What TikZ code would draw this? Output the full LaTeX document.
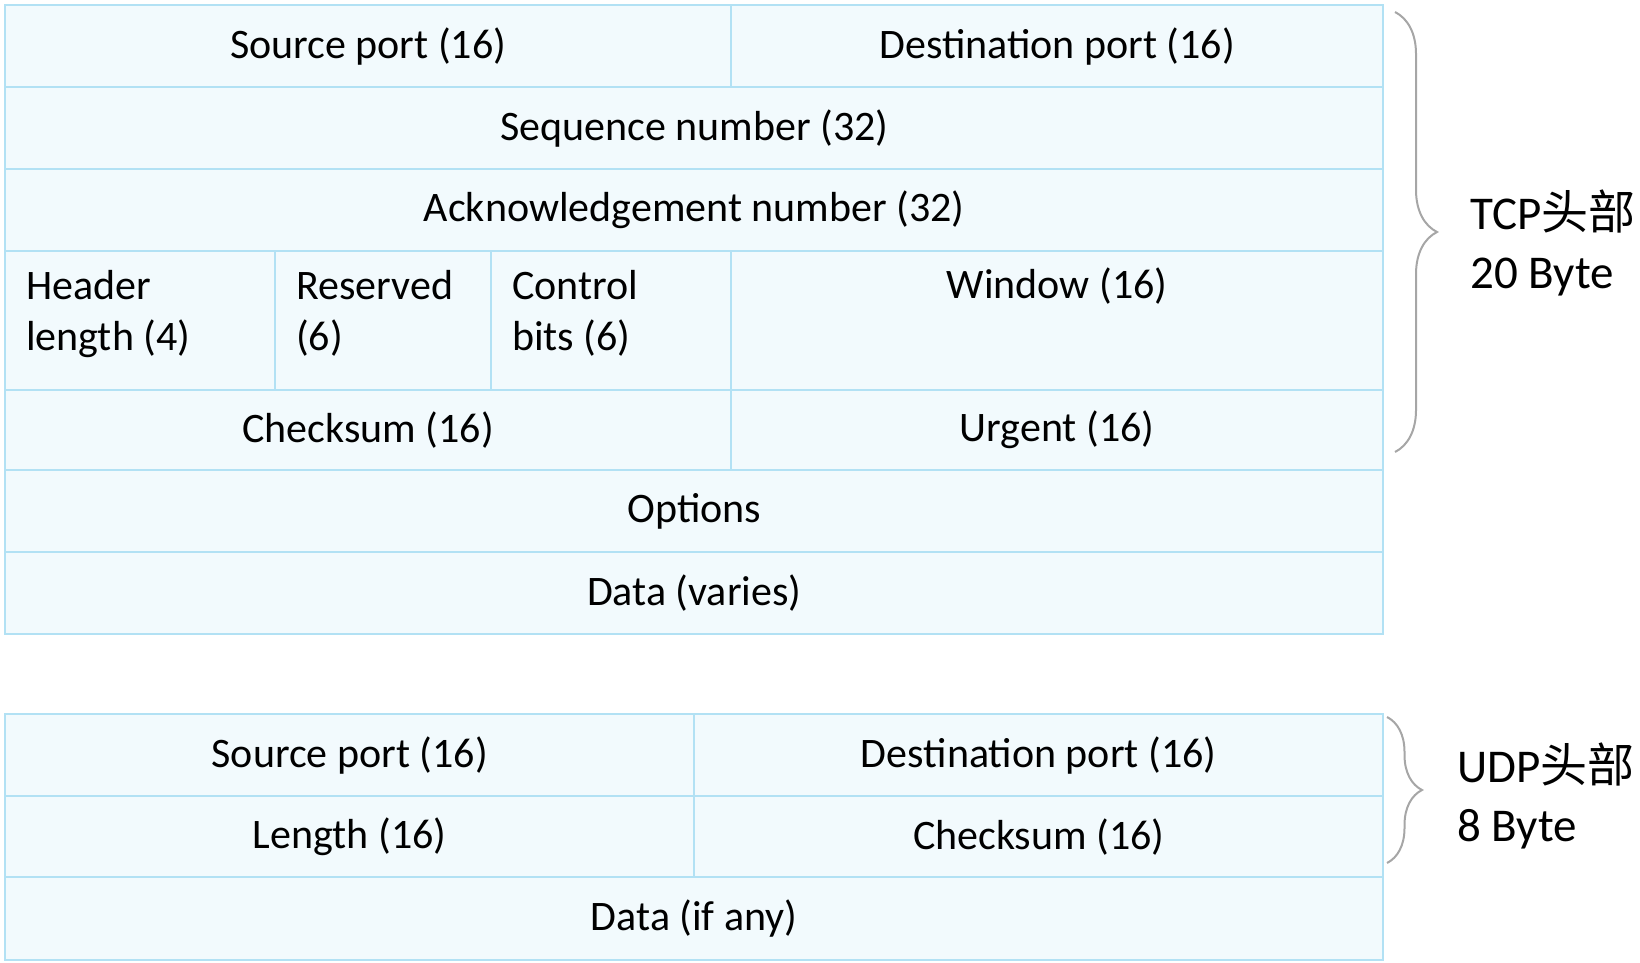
\documentclass[tikz,border=0pt]{standalone}
\usepackage{fontspec}
\setmainfont{Carlito}
\newfontfamily\cjk{Noto Sans CJK SC}
\usetikzlibrary{positioning,calc,decorations.pathreplacing}
\definecolor{cellline}{HTML}{B2E1F4}
\definecolor{cellfill}{HTML}{F2FAFD}
\definecolor{bracegray}{HTML}{A6A6A6}

\begin{document}
\begin{tikzpicture}[x=1pt,y=-1pt,
  cell/.style={draw=cellline, fill=cellfill, line width=2.4pt, inner sep=0pt, anchor=north west, font=\fontsize{42}{51}\selectfont},
  txt/.style={inner sep=0pt, align=left, font=\fontsize{42}{51}\selectfont},
  side/.style={inner sep=0pt, align=left, font=\fontsize{47}{59}\selectfont},
  hbrace/.style={draw=bracegray, line width=2pt, decorate},
]
\useasboundingbox (0,0) rectangle (1640,963);

% TCP header
\foreach \n/\x/\y/\w/\h/\t in {tsrc/4/4/726/82/Source port (16), tdst/730/4/652/82/Destination port (16),
  tseq/4/86/1378/82/Sequence number (32), tack/4/168/1378/82/Acknowledgement number (32),
  thlen/4/250/270/139/, tres/274/250/216/139/, tctl/490/250/240/139/, twin/730/250/652/139/,
  tsum/4/389/726/80/Checksum (16), turg/730/389/652/80/Urgent (16),
  topt/4/469/1378/82/Options, tdata/4/551/1378/82/Data (varies)}
  {\node[cell, minimum width=\w, minimum height=\h] (\n) at (\x,\y) {\t};}
\node[txt, anchor=north west] (hlen) at ($(thlen.north west)+(22,20)$) {Header\\length (4)};
\node[txt, anchor=north west] (res) at ($(tres.north west)+(22,20)$) {Reserved\\(6)};
\node[txt, anchor=north west] (ctl) at ($(tctl.north west)+(22,20)$) {Control\\bits (6)};
\node[txt, anchor=base] (win) at ($(twin.north)+(0,48)$) {Window (16)};

% UDP header
\foreach \n/\x/\y/\w/\h/\t in {usrc/4/713/689/82/Source port (16), udst/693/713/689/82/Destination port (16),
  ulen/4/795/689/81/Length (16), usum/693/795/689/81/Checksum (16),
  udata/4/876/1378/83/Data (if any)}
  {\node[cell, minimum width=\w, minimum height=\h] (\n) at (\x,\y) {\t};}

% braces
\coordinate (tcpb1) at (1395,12); \coordinate (tcpb2) at (1395,452);
\draw[hbrace, decoration={brace, amplitude=42pt}] (tcpb1) -- (tcpb2);
\coordinate (udpb1) at (1387,717); \coordinate (udpb2) at (1387,863);
\draw[hbrace, decoration={brace, amplitude=35pt}] (udpb1) -- (udpb2);
\node[side, anchor=west] (tcplbl) at (1470,243) {TCP{\cjk 头部}\\20 Byte};
\node[side, anchor=west] (udplbl) at (1457,796) {UDP{\cjk 头部}\\8 Byte};

\end{tikzpicture}
\end{document}
